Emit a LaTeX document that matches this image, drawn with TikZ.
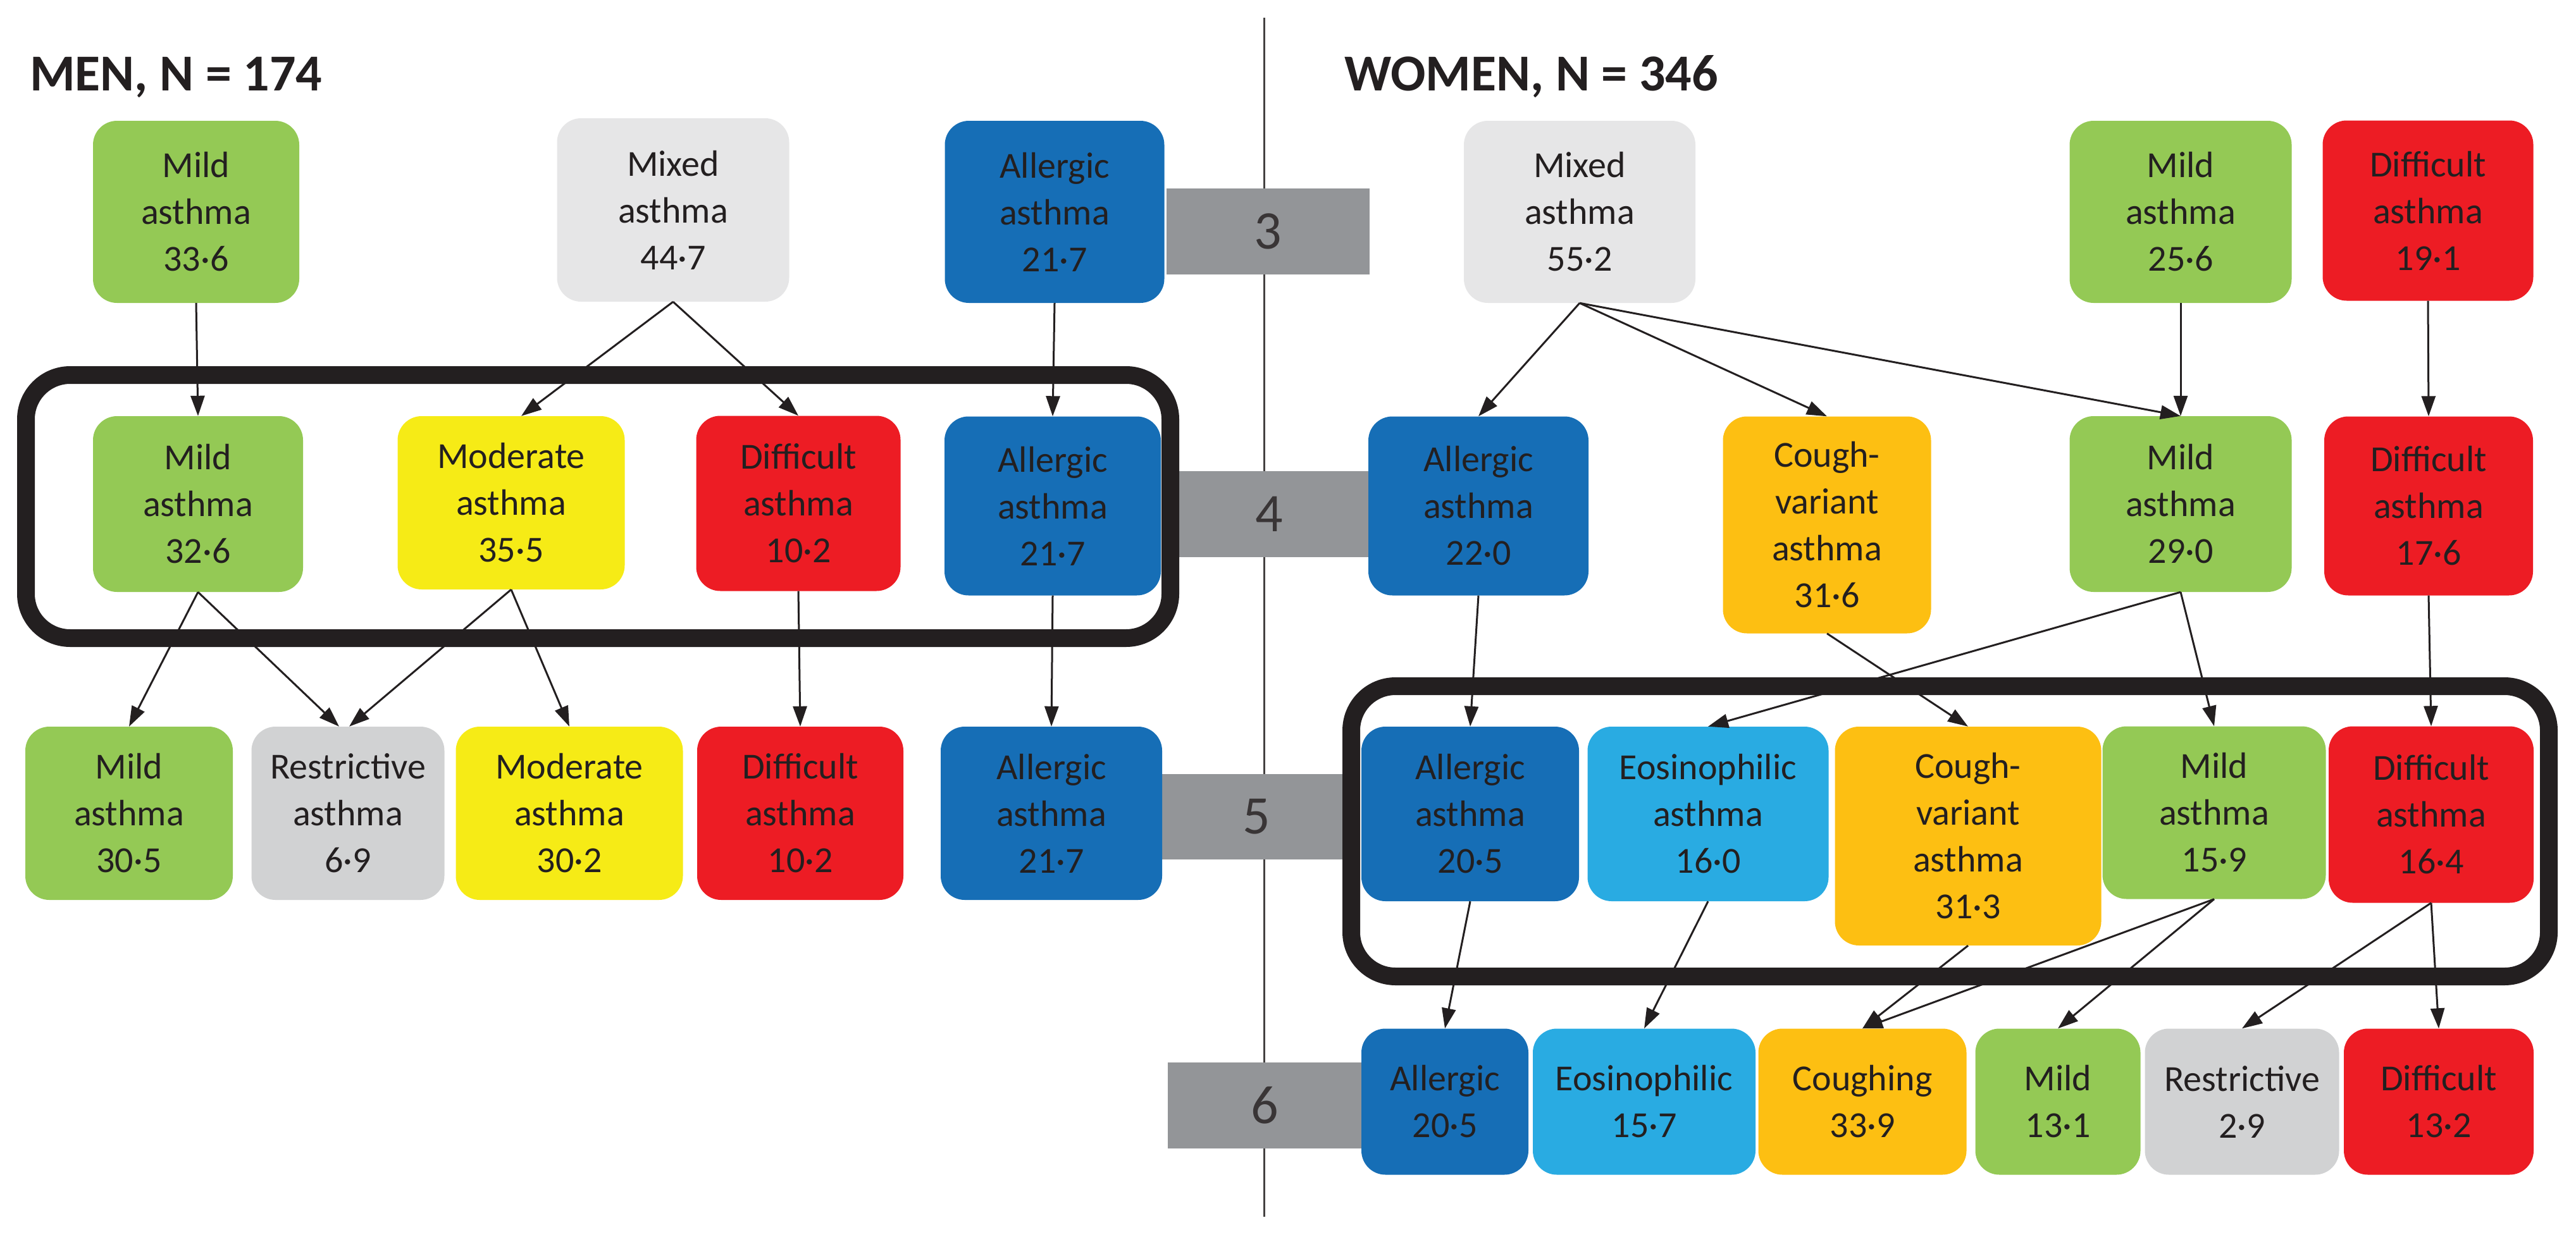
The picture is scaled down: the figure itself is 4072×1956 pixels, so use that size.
\documentclass[tikz,border=0pt]{standalone}
\usepackage{fontspec}
\setmainfont{Carlito}
\usetikzlibrary{arrows.meta}
\definecolor{mild}{HTML}{94C955}
\definecolor{mixed}{HTML}{E6E6E7}
\definecolor{allergic}{HTML}{166EB6}
\definecolor{moderate}{HTML}{F6EB16}
\definecolor{difficult}{HTML}{ED1C24}
\definecolor{restrictive}{HTML}{D1D2D3}
\definecolor{cough}{HTML}{FDBF12}
\definecolor{eosin}{HTML}{29ABE2}
\definecolor{stagegrey}{HTML}{939598}
\definecolor{ink}{HTML}{231F20}
\begin{document}
\begin{tikzpicture}
  [x=1pt,y=1pt,
   box/.style={rounded corners=38pt,align=center,inner sep=0pt,text=ink,font=\fontsize{58}{74}\selectfont},
   stage/.style={fill=stagegrey,inner sep=0pt,text=ink!90,font=\fontsize{86}{90}\selectfont},
   title/.style={anchor=base west,inner sep=0pt,text=ink,font=\fontsize{82}{90}\selectfont\bfseries},
   frame/.style={line width=28pt,rounded corners=70pt,draw=ink},
   arr/.style={-{Triangle[length=32pt,width=22pt]},line width=3pt,draw=ink}]
  \useasboundingbox (0,0) rectangle (4072,-1956);

  \draw[line width=3pt,draw=ink!85] (1998,-28) -- (1998,-1924);

  \node (s3) [stage,minimum width=321pt,minimum height=136pt] at (2004,-366) {3};
  \node (s4) [stage,minimum width=313pt,minimum height=136pt] at (2006,-813) {4};
  \node (s5) [stage,minimum width=299pt,minimum height=135pt] at (1986,-1291) {5};
  \node (s6) [stage,minimum width=306pt,minimum height=136pt] at (1999,-1748) {6};

  \draw[frame] (41,-593) rectangle (1850,-1009);
  \draw[frame] (2136,-1085) rectangle (4029,-1544);

  \node (men) [title] at (47,-143) {MEN, N = 174};
  \node (women) [title] at (2125,-143) {WOMEN, N = 346};

  % men
  \node (m3mild) [box,fill=mild,minimum width=326pt,minimum height=288pt] at (310,-335) {Mild\\asthma\\33·6};
  \node (m3mixed) [box,fill=mixed,minimum width=367pt,minimum height=290pt] at (1064,-332) {Mixed\\asthma\\44·7};
  \node (m3allergic) [box,fill=allergic,minimum width=347pt,minimum height=288pt] at (1667,-335) {Allergic\\asthma\\21·7};

  \node (m4mild) [box,fill=mild,minimum width=332pt,minimum height=278pt] at (313,-797) {Mild\\asthma\\32·6};
  \node (m4moderate) [box,fill=moderate,minimum width=359pt,minimum height=274pt] at (808,-795) {Moderate\\asthma\\35·5};
  \node (m4difficult) [box,fill=difficult,minimum width=323pt,minimum height=277pt] at (1262,-796) {Difficult\\asthma\\10·2};
  \node (m4allergic) [box,fill=allergic,minimum width=342pt,minimum height=283pt] at (1664,-800) {Allergic\\asthma\\21·7};

  \node (m5mild) [box,fill=mild,minimum width=328pt,minimum height=274pt] at (204,-1286) {Mild\\asthma\\30·5};
  \node (m5restrictive) [box,fill=restrictive,minimum width=305pt,minimum height=274pt] at (550,-1286) {Restrictive\\asthma\\6·9};
  \node (m5moderate) [box,fill=moderate,minimum width=359pt,minimum height=274pt] at (900,-1286) {Moderate\\asthma\\30·2};
  \node (m5difficult) [box,fill=difficult,minimum width=326pt,minimum height=274pt] at (1265,-1286) {Difficult\\asthma\\10·2};
  \node (m5allergic) [box,fill=allergic,minimum width=350pt,minimum height=274pt] at (1662,-1286) {Allergic\\asthma\\21·7};

  % women
  \node (w3mixed) [box,fill=mixed,minimum width=366pt,minimum height=288pt] at (2497,-335) {Mixed\\asthma\\55·2};
  \node (w3mild) [box,fill=mild,minimum width=351pt,minimum height=288pt] at (3447,-335) {Mild\\asthma\\25·6};
  \node (w3difficult) [box,fill=difficult,minimum width=333pt,minimum height=285pt] at (3838,-333) {Difficult\\asthma\\19·1};

  \node (w4allergic) [box,fill=allergic,minimum width=348pt,minimum height=283pt] at (2337,-800) {Allergic\\asthma\\22·0};
  \node (w4cough) [box,fill=cough,minimum width=329pt,minimum height=343pt] at (2888,-830) {Cough-\\variant\\asthma\\31·6};
  \node (w4mild) [box,fill=mild,minimum width=351pt,minimum height=278pt] at (3447,-797) {Mild\\asthma\\29·0};
  \node (w4difficult) [box,fill=difficult,minimum width=330pt,minimum height=283pt] at (3839,-800) {Difficult\\asthma\\17·6};

  \node (w5allergic) [box,fill=allergic,minimum width=344pt,minimum height=276pt] at (2324,-1287) {Allergic\\asthma\\20·5};
  \node (w5eosinophilic) [box,fill=eosin,minimum width=381pt,minimum height=276pt] at (2700,-1287) {Eosinophilic\\asthma\\16·0};
  \node (w5cough) [box,fill=cough,minimum width=421pt,minimum height=346pt] at (3111,-1322) {Cough-\\variant\\asthma\\31·3};
  \node (w5mild) [box,fill=mild,minimum width=353pt,minimum height=273pt] at (3500,-1285) {Mild\\asthma\\15·9};
  \node (w5difficult) [box,fill=difficult,minimum width=324pt,minimum height=279pt] at (3843,-1288) {Difficult\\asthma\\16·4};

  \node (w6allergic) [box,fill=allergic,minimum width=264pt,minimum height=231pt] at (2284,-1742) {Allergic\\20·5};
  \node (w6eosinophilic) [box,fill=eosin,minimum width=352pt,minimum height=231pt] at (2599,-1742) {Eosinophilic\\15·7};
  \node (w6coughing) [box,fill=cough,minimum width=329pt,minimum height=231pt] at (2944,-1742) {Coughing\\33·9};
  \node (w6mild) [box,fill=mild,minimum width=261pt,minimum height=231pt] at (3253,-1742) {Mild\\13·1};
  \node (w6restrictive) [box,fill=restrictive,minimum width=307pt,minimum height=231pt] at (3544,-1742) {Restrictive\\2·9};
  \node (w6difficult) [box,fill=difficult,minimum width=300pt,minimum height=231pt] at (3855,-1742) {Difficult\\13·2};

  \foreach \from/\to in {m3mild/m4mild,m3mixed/m4difficult,m3allergic/m4allergic,
    m4mild/m5mild,m4moderate/m5moderate,m4difficult/m5difficult,m4allergic/m5allergic,
    w3mixed/w4allergic,w3mixed/w4cough,w3mixed/w4mild,w3mild/w4mild,w3difficult/w4difficult,
    w4allergic/w5allergic,w4cough/w5cough,w4mild/w5eosinophilic,w4mild/w5mild,w4difficult/w5difficult,
    w5allergic/w6allergic,w5eosinophilic/w6eosinophilic,w5cough/w6coughing,w5mild/w6coughing,
    w5mild/w6mild,w5difficult/w6restrictive,w5difficult/w6difficult}
    \draw[arr] (\from.south) -- (\to.north);
  \draw[arr] (m3mixed.south) -- ([xshift=16pt]m4moderate.north);
  \draw[arr] (m4mild.south) -- ([xshift=-14pt]m5restrictive.north);
  \draw[arr] (m4moderate.south) -- ([xshift=2pt]m5restrictive.north);

\end{tikzpicture}
\end{document}
